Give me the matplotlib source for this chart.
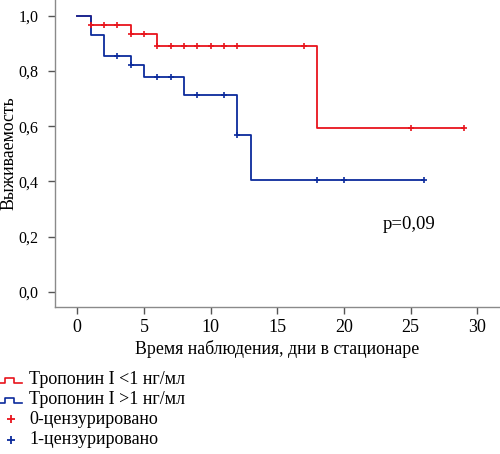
import matplotlib
matplotlib.use("Agg")
import matplotlib.pyplot as plt
from matplotlib.lines import Line2D

plt.rcParams['font.family'] = ['Liberation Serif', 'DejaVu Serif']

# Group 1: Troponin I < 1 ng/ml (red)
red_t = [0, 1, 4, 6, 18, 29]
red_s = [1.0, 0.967, 0.934, 0.890, 0.593, 0.593]
red_cens_t = [1, 2, 3, 4, 5, 6, 7, 8, 9, 10, 11, 12, 17, 25, 29]
red_cens_s = [0.967, 0.967, 0.967, 0.934, 0.934, 0.890, 0.890, 0.890, 0.890,
              0.890, 0.890, 0.890, 0.890, 0.593, 0.593]

# Group 2: Troponin I > 1 ng/ml (blue)
blue_t = [0, 1, 2, 4, 5, 8, 12, 13, 26]
blue_s = [1.0, 0.930, 0.854, 0.821, 0.778, 0.714, 0.569, 0.406, 0.406]
blue_cens_t = [3, 4, 6, 7, 9, 11, 12, 18, 20, 26]
blue_cens_s = [0.854, 0.821, 0.778, 0.778, 0.714, 0.714, 0.569, 0.406, 0.406, 0.406]

x_ticks = [0, 5, 10, 15, 20, 25, 30]
y_ticks = [0.0, 0.2, 0.4, 0.6, 0.8, 1.0]
y_tick_labels = ['0,0', '0,2', '0,4', '0,6', '0,8', '1,0']

legend_labels = ['Тропонин I <1 нг/мл', 'Тропонин I >1 нг/мл',
                 '0-цензурировано', '1-цензурировано']

RED = '#e8141c'
BLUE = '#0c2b9c'
W, H = 500, 454
FS = 13

fig = plt.figure(figsize=(5.0, 4.54), dpi=100)
ax = fig.add_axes([55 / W, 1 - 306.7 / H, 445 / W, 306.7 / H])

ax.step(red_t, red_s, where='post', color=RED, lw=1.3)
ax.step(blue_t, blue_s, where='post', color=BLUE, lw=1.3)
ax.plot(red_cens_t, red_cens_s, ls='none', marker='+', ms=5, mew=1.2, color=RED)
ax.plot(blue_cens_t, blue_cens_s, ls='none', marker='+', ms=5, mew=1.2, color=BLUE)

ax.set_xlim(-1.67, 31.7)
ax.set_ylim(-0.054, 1.057)
ax.set_xticks(x_ticks)
ax.set_yticks(y_ticks)
ax.set_yticklabels(y_tick_labels)
for s in ['top', 'right']:
    ax.spines[s].set_visible(False)
for s in ['left', 'bottom']:
    ax.spines[s].set_color('#8a8a8a')
    ax.spines[s].set_linewidth(1.0)
ax.tick_params(axis='both', colors='#555555', labelcolor='black', labelsize=FS,
               length=5, width=1.0)
ax.tick_params(axis='y', pad=7, labelsize=11.5)
ax.tick_params(axis='x', pad=4)
ax.set_xlabel('Время наблюдения, дни в стационаре', fontsize=12.8, labelpad=3)
ax.set_ylabel('Выживаемость', fontsize=12.8)
ax.yaxis.set_label_coords((17 - 55) / 445, 0.5)
ax.text(22.9, 0.245, 'p=0,09', fontsize=13.5, va='center', ha='left')

# custom legend below the plot (figure pixel coordinates)
def fx(px):
    return px / W

def fy(py):
    return 1 - py / H

def pulse(y_center, color):
    lo, hi = y_center + 2.5, y_center - 2.5
    xs = [0, 5, 5, 14, 14, 22]
    ys = [lo, lo, hi, hi, lo, lo]
    fig.add_artist(Line2D([fx(v) for v in xs], [fy(v) for v in ys],
                          color=color, lw=1.2, transform=fig.transFigure))

rows = [380, 400, 419, 440]
pulse(rows[0], RED)
pulse(rows[1], BLUE)
fig.add_artist(Line2D([fx(11)], [fy(rows[2])], marker='+', ms=6, mew=1.3,
                      color=RED, transform=fig.transFigure))
fig.add_artist(Line2D([fx(11)], [fy(rows[3])], marker='+', ms=6, mew=1.3,
                      color=BLUE, transform=fig.transFigure))
for r, lab in zip(rows, legend_labels):
    fig.text(fx(29), fy(r), lab, fontsize=FS, va='center', ha='left')

fig.savefig('out.png', dpi=100)
